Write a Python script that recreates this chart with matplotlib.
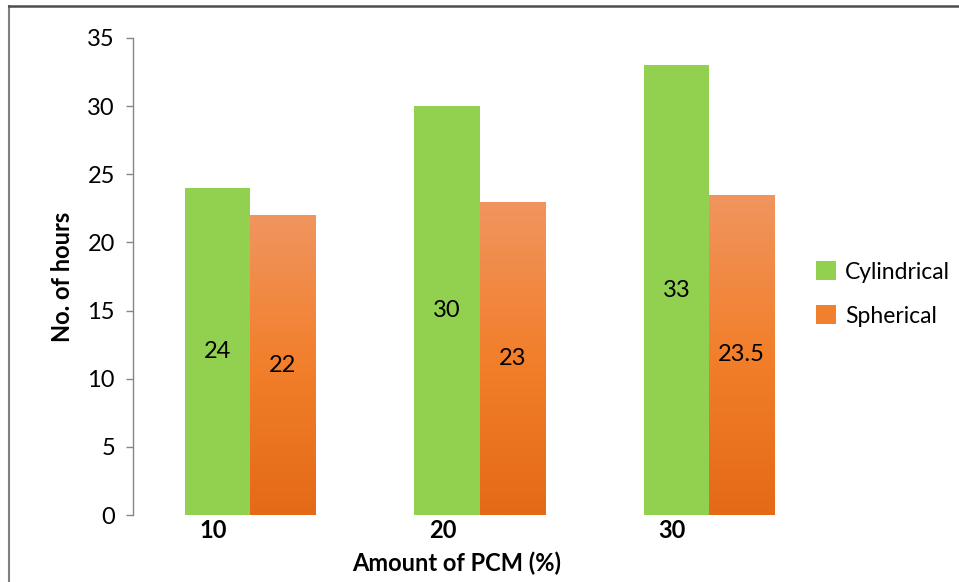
import matplotlib
matplotlib.use("Agg")
import matplotlib.pyplot as plt
import numpy as np
from matplotlib.patches import Patch
from matplotlib.lines import Line2D
from matplotlib.colors import LinearSegmentedColormap

categories = ["10", "20", "30"]
cylindrical = [24, 30, 33]
spherical = [22, 23, 23.5]
value_labels_cyl = ["24", "30", "33"]
value_labels_sph = ["22", "23", "23.5"]
series_names = ["Cylindrical", "Spherical"]

plt.rcParams['font.family'] = ['Lato', 'DejaVu Sans']
FS = 17

W, H = 959, 582
fig = plt.figure(figsize=(W / 100, H / 100), dpi=100)
ax = fig.add_axes([133 / W, 67 / H, 688.5 / W, 477 / H])

green = "#92D050"
x = np.arange(len(categories))
bw = 0.285

ax.bar(x - bw / 2, cylindrical, width=bw, color=green, zorder=2)
sph_bars = ax.bar(x + bw / 2, spherical, width=bw, color="none", zorder=2)

cmap = LinearSegmentedColormap.from_list("og", ["#E46A17", "#F27F2B", "#F0955F"])
grad = np.linspace(0, 1, 256).reshape(-1, 1)
for b in sph_bars:
    x0, y0 = b.get_x(), b.get_y()
    w, h = b.get_width(), b.get_height()
    im = ax.imshow(grad, cmap=cmap, origin="lower", aspect="auto",
                   extent=[x0, x0 + w, y0, y0 + h], zorder=2)
    im.set_clip_path(b)

for i in range(len(categories)):
    ax.text(x[i] - bw / 2, cylindrical[i] / 2, value_labels_cyl[i],
            ha="center", va="center", fontsize=FS, color="black", zorder=3)
    ax.text(x[i] + bw / 2, spherical[i] / 2, value_labels_sph[i],
            ha="center", va="center", fontsize=FS, color="black", zorder=3)

ax.set_xlim(-0.51, 2.49)
ax.set_ylim(0, 35)
ax.set_yticks(np.arange(0, 36, 5))
ax.set_xticks(x - 0.16)
ax.set_xticklabels(categories, fontweight="bold", fontsize=FS)
ax.tick_params(axis="x", length=0, pad=3)
ax.tick_params(axis="y", length=5, width=1, color="#868686", labelsize=FS, pad=8)

for s in ["top", "right", "bottom"]:
    ax.spines[s].set_visible(False)
ax.spines["left"].set_color("#868686")
ax.spines["left"].set_linewidth(1)

fig.text(62 / W, 1 - 277 / H, "No. of hours", rotation=90, ha="center", va="center",
         fontsize=FS, fontweight="bold")
fig.text(457 / W, 1 - 563 / H, "Amount of PCM (%)", ha="center", va="center",
         fontsize=FS, fontweight="bold")

handles = [Patch(facecolor=green, edgecolor="none"),
           Patch(facecolor="#F07F2E", edgecolor="none")]
fig.legend(handles, series_names, loc="center left",
           bbox_to_anchor=(805 / W, 1 - 294 / H), frameon=False, fontsize=16.5,
           handlelength=0.85, handleheight=0.85, handletextpad=0.4, labelspacing=1.0,
           borderpad=0)

fig.add_artist(Line2D([8.5 / W, 8.5 / W], [0, 1 - 6 / H], transform=fig.transFigure,
                      color="#7F7F7F", lw=1.5))
fig.add_artist(Line2D([8.5 / W, 1], [1 - 6 / H, 1 - 6 / H], transform=fig.transFigure,
                      color="#4D4D4D", lw=1.8))

fig.savefig("out.png", dpi=100, facecolor="white")
